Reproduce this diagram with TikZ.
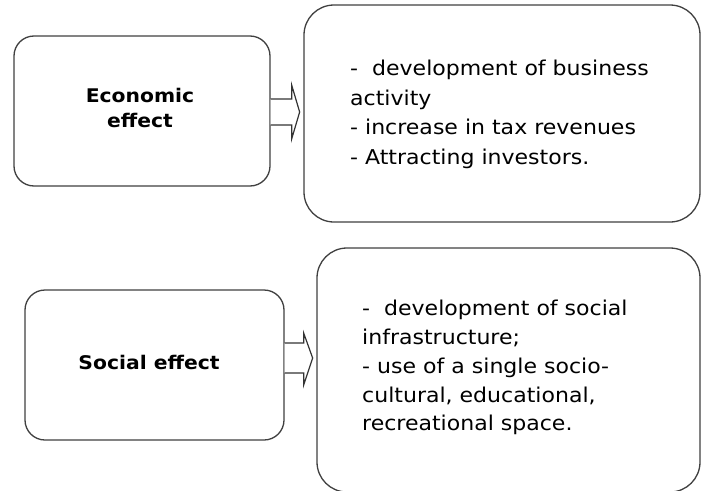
\documentclass[tikz,border=0pt]{standalone}
\usepackage{fontspec}
\setmainfont{DejaVu Sans}[FakeStretch=1.08]
\usetikzlibrary{calc}
\begin{document}
\begin{tikzpicture}[x=1pt,y=-1pt,
  box/.style={draw=black!75,line width=1.3pt,rounded corners=20pt,fill=white},
  bigbox/.style={draw=black!75,line width=1.3pt,rounded corners=30pt,fill=white},
  lab/.style={font=\bfseries\fontsize{18.8}{25}\selectfont,align=center,text=black},
  txt/.style={font=\fontsize{20.4}{29.5}\selectfont,align=left,anchor=north west,text=black,inner sep=0pt},
  blockarrow/.style={draw=black!80,line width=1.2pt,fill=white,line join=miter}]
\useasboundingbox (0,0) rectangle (701,490);
% top row
\node[box,minimum width=256pt,minimum height=150pt] (econ) at (142,111) {};
\node[lab] (econl) at (140,108) {Economic\\ effect};
\node[bigbox,minimum width=396pt,minimum height=217pt] (econr) at (502,113.5) {};
\node[txt] (econt) at (350,60) {-\ \ development of business\\activity\\- increase in tax revenues\\- Attracting investors.};
\draw[blockarrow] ($(econ.east)+(0,-12)$) -- ($(econ.east)+(21,-12)$) -- ($(econ.east)+(21,-26)$)
  -- ($(econ.east)+(29,1)$) -- ($(econ.east)+(21,28)$) -- ($(econ.east)+(21,14)$) -- ($(econ.east)+(0,14)$);
% bottom row
\node[box,minimum width=259pt,minimum height=150pt] (soc) at (154.5,365) {};
\node[lab] (socl) at (149,362) {Social effect};
\node[bigbox,minimum width=383pt,minimum height=244pt] (socr) at (508.5,370) {};
\node[txt,font=\fontsize{20.4}{28.8}\selectfont] (soct) at (362,300) {-\ \ development of social\\infrastructure;\\- use of a single socio-\\cultural, educational,\\recreational space.};
\draw[blockarrow] ($(soc.east)+(0,-22)$) -- ($(soc.east)+(19,-22)$) -- ($(soc.east)+(19,-32)$)
  -- ($(soc.east)+(28,-7)$) -- ($(soc.east)+(19,20)$) -- ($(soc.east)+(19,8)$) -- ($(soc.east)+(0,8)$);
\end{tikzpicture}
\end{document}
